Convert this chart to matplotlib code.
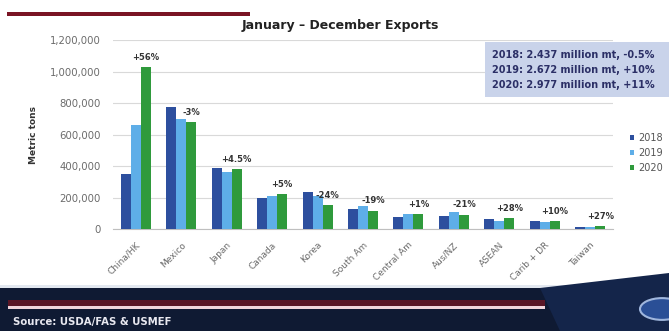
import numpy as np
import matplotlib
matplotlib.use('Agg')
from matplotlib import pyplot as plt
from matplotlib.ticker import FuncFormatter
from matplotlib.patches import Rectangle, Polygon, Circle

# values (metric tons)
markets = ['China/HK', 'Mexico', 'Japan', 'Canada', 'Korea', 'South Am',
           'Central Am', 'Aus/NZ', 'ASEAN', 'Carib + DR', 'Taiwan']
exports_2018 = [350000, 776000, 389000, 199000, 237000, 131000, 80000, 84000, 65000, 55000, 17000]
exports_2019 = [660000, 702000, 364000, 209000, 211000, 146000, 95000, 112000, 51000, 46000, 16000]
exports_2020 = [1030000, 681000, 381000, 222000, 152000, 118000, 95000, 93000, 72000, 51000, 20000]
changes = ['+56%', '-3%', '+4.5%', '+5%', '-24%', '-19%', '+1%', '-21%', '+28%', '+10%', '+27%']
years = ['2018', '2019', '2020']
summary = ['2018: 2.437 million mt, -0.5%',
           '2019: 2.672 million mt, +10%',
           '2020: 2.977 million mt, +11%']

colors = ['#2d4f9e', '#5eaee8', '#2f9a3c']
W, H = 669, 331


def fx(px):
    return px / W


def fy(py):
    return 1 - py / H


fig = plt.figure(figsize=(W / 100, H / 100), dpi=100)
fig.patch.set_facecolor('white')

ax = fig.add_axes([fx(113), fy(229.3), fx(613) - fx(113), fy(40) - fy(229.3)])
x = np.arange(len(markets))
bw = 0.22
series = [exports_2018, exports_2019, exports_2020]
for k, vals in enumerate(series):
    ax.bar(x + (k - 1) * bw, vals, bw, color=colors[k], label=years[k], zorder=3)

for i, lab in enumerate(changes):
    ax.annotate(lab, xy=(x[i] + 0.22, exports_2020[i]), xytext=(0, 7),
                textcoords='offset points', ha='center', va='center',
                fontsize=6, fontweight='bold', color='#333333', zorder=4)

ax.set_xlim(-0.5, len(markets) - 0.5)
ax.set_ylim(0, 1200000)
ax.set_yticks(np.arange(0, 1200001, 200000))
ax.yaxis.set_major_formatter(FuncFormatter(lambda v, p: format(int(v), ',')))
ax.grid(axis='y', color='#d9d9d9', linewidth=0.8, zorder=0)
for s in ['top', 'right', 'left']:
    ax.spines[s].set_visible(False)
ax.spines['bottom'].set_color('#bfbfbf')
ax.tick_params(axis='y', length=0, labelsize=7.3, labelcolor='#6b6b6b', pad=9)
ax.tick_params(axis='x', length=0, labelsize=6.5, labelcolor='#6b6b6b', pad=8)
ax.set_xticks(x)
ax.set_xticklabels(markets, rotation=45, ha='right', rotation_mode='anchor')
ax.set_ylabel('Metric tons', fontsize=6.5, fontweight='bold', color='#333333')
ax.yaxis.set_label_coords((38 - 113) / 500, 0.5)

ax.legend(loc='center left', bbox_to_anchor=(fx(621), fy(153)), bbox_transform=fig.transFigure,
          frameon=False, fontsize=7, handlelength=0.45, handleheight=0.45,
          handletextpad=0.4, labelspacing=0.5, labelcolor='#555555')

fig.text(fx(340), fy(25), 'January \u2013 December Exports', ha='center', va='center',
         fontsize=9, fontweight='bold', color='#222222')

# summary box
fig.patches.append(Rectangle((fx(485), fy(97)), fx(669) - fx(485), fy(42) - fy(97),
                             transform=fig.transFigure, facecolor='#c9d3ea', edgecolor='none', zorder=1))
for j, line in enumerate(summary):
    fig.text(fx(492), fy(55 + 15 * j), line, ha='left', va='center', fontsize=7,
             fontweight='bold', color='#2b2f66', zorder=2)

# top red rule
fig.patches.append(Rectangle((fx(7), fy(15.5)), fx(250) - fx(7), fy(12.5) - fy(15.5),
                             transform=fig.transFigure, facecolor='#7a1424', edgecolor='none'))

# bottom banner
fig.patches.append(Rectangle((0, fy(288)), 1, fy(285) - fy(288), transform=fig.transFigure,
                             facecolor='#e3e8f0', edgecolor='none'))
fig.patches.append(Rectangle((0, 0), 1, fy(288), transform=fig.transFigure,
                             facecolor='#0f1a33', edgecolor='none'))
fig.patches.append(Polygon([(fx(540), fy(288)), (fx(669), fy(273)), (fx(669), 0), (fx(560), 0)],
                           closed=True, transform=fig.transFigure, facecolor='#14254a', edgecolor='none'))
fig.patches.append(Rectangle((fx(8), fy(306)), fx(545) - fx(8), fy(300) - fy(306),
                             transform=fig.transFigure, facecolor='#5a1626', edgecolor='none'))
fig.patches.append(Rectangle((fx(8), fy(309)), fx(545) - fx(8), fy(306) - fy(309),
                             transform=fig.transFigure, facecolor='#f1d6dc', edgecolor='none'))
fig.patches.append(Circle((fx(662), fy(309)), 22 / W, transform=fig.transFigure,
                          facecolor='#2a4f96', edgecolor='#9fb6dd', linewidth=1.5))
fig.text(fx(13), fy(322), 'Source: USDA/FAS & USMEF', ha='left', va='center',
         fontsize=7.3, fontweight='bold', color='#e8e8f0')

fig.savefig('out.png', dpi=100)
